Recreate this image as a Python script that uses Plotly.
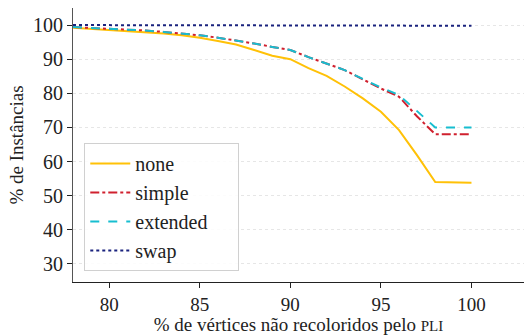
import plotly.graph_objects as go

x_vals = list(range(78, 101))
none_vals = [99.2, 98.9, 98.6, 98.3, 97.9, 97.5, 97.0, 96.3, 95.3, 94.3, 92.7, 91.0,
             90.0, 87.4, 85.1, 82.0, 78.5, 74.6, 69.2, 61.8, 54.0, 53.9, 53.8]
simple_vals = [99.4, 99.2, 99.0, 98.7, 98.4, 98.0, 97.6, 97.0, 96.3, 95.5, 94.6, 93.6,
               92.7, 90.6, 88.8, 86.8, 84.1, 81.4, 79.0, 73.2, 68.0, 68.0, 68.0]
extended_vals = [99.4, 99.2, 99.0, 98.7, 98.4, 98.0, 97.6, 97.0, 96.3, 95.5, 94.6, 93.6,
                 92.7, 90.6, 88.8, 86.8, 84.2, 81.7, 79.5, 74.6, 70.0, 70.0, 70.0]
swap_vals = [100.0] * 20 + [99.8, 99.8, 99.8]

series = [
    ("none", none_vals, "#FFC107", "solid"),
    ("simple", simple_vals, "#D0202E", "dashdot"),
    ("extended", extended_vals, "#17BED0", "dash"),
    ("swap", swap_vals, "#1A237E", "dot"),
]

y_ticks = [30, 40, 50, 60, 70, 80, 90, 100]
x_ticks = [80, 85, 90, 95, 100]

FONT = "Liberation Serif"

fig = go.Figure()
for name, vals, color, dash in series:
    label = name + ("&nbsp;" * 5 if name == "extended" else "")
    fig.add_trace(go.Scatter(x=x_vals, y=vals, mode="lines", name=label,
                             line=dict(color=color, width=2, dash=dash)))

fig.update_layout(
    width=524, height=335,
    margin=dict(l=73, r=0, t=8, b=53),
    paper_bgcolor="white", plot_bgcolor="white",
    font=dict(family=FONT, size=20, color="#222"),
    legend=dict(x=0.025, y=0.04, xanchor="left", yanchor="bottom",
                bgcolor="rgba(255,255,255,0.85)", bordercolor="#d0d0d0", borderwidth=1,
                font=dict(family=FONT, size=20, color="#222"),
                tracegroupgap=0, itemwidth=40),
    showlegend=True,
)
fig.update_xaxes(range=[78, 102.9], tickvals=x_ticks, showgrid=False,
                 showline=True, linecolor="#222", linewidth=1.2,
                 ticks="outside", ticklen=5, tickcolor="#222", zeroline=False,
                 tickfont=dict(family=FONT, size=19),
                 title=dict(text="% de vértices não recoloridos pelo <span style='font-size:15px'>PLI</span>",
                            font=dict(family=FONT, size=19), standoff=1))
fig.update_yaxes(range=[24.7, 105], tickvals=y_ticks, showgrid=True,
                 gridcolor="#e6e6e6", griddash="dot", gridwidth=1,
                 showline=True, linecolor="#555", linewidth=1.2,
                 ticks="outside", ticklen=5, tickcolor="#222", zeroline=False,
                 title=dict(text="% de Instâncias", font=dict(family=FONT, size=19), standoff=4))

fig.write_html("out.html")
